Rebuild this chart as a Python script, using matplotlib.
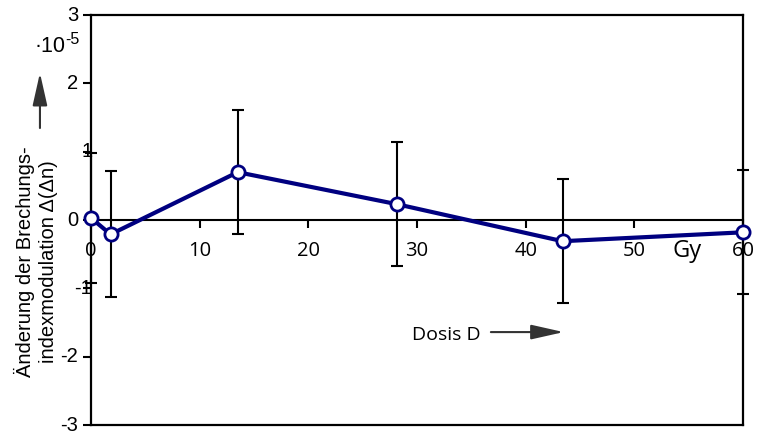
import matplotlib.pyplot as plt

plt.rcParams['font.family'] = ['Liberation Sans', 'DejaVu Sans']

# Dosis (Gy) and change of index modulation (x 1e-5)
dose = [0, 1.8, 13.5, 28.2, 43.4, 60]
delta = [0.03, -0.21, 0.70, 0.23, -0.31, -0.18]
err = [0.95, 0.92, 0.91, 0.91, 0.91, 0.91]
xticks = [0, 10, 20, 30, 40, 50, 60]
yticks = [-3, -2, -1, 0, 1, 2, 3]

fig = plt.figure(figsize=(7.61, 4.34), dpi=100)
ax = fig.add_axes([0.1196, 0.0207, 0.8567, 0.9447])
ax.set_xlim(0, 60)
ax.set_ylim(-3, 3)
for s in ax.spines.values():
    s.set_linewidth(1.6)

ax.set_xticks([])
ax.set_yticks(yticks)
ax.set_yticklabels([])
ax.tick_params(axis='y', direction='out', length=6, width=1.5)

# y tick labels (the +/-1 ones sit closer to the axis in the original)
for v in yticks:
    dx = 0.002 if abs(v) == 1 else -0.02
    ax.text(dx, v, str(v), transform=ax.get_yaxis_transform(), ha='right', va='center', fontsize=14.5)

# x axis through zero
sec = ax.secondary_xaxis(0.5)
sec.set_alignment('bottom')
sec.set_xticks(xticks)
sec.spines['bottom'].set_linewidth(1.5)
sec.tick_params(direction='out', length=6, width=1.5, labelsize=14.5, pad=9)
for lab in sec.get_xticklabels():
    lab.set_family('Open Sans')

ax.errorbar(dose, delta, yerr=err, fmt='none', ecolor='black', elinewidth=1.5,
            capsize=4.5, capthick=1.5, clip_on=False, zorder=3)
ax.plot(dose, delta, color='#000080', lw=3, marker='o', ms=9.5, mfc='white',
        mec='#000080', mew=2, clip_on=False, zorder=4)

arrow = dict(arrowstyle='-|>,head_length=2.0,head_width=0.45', color='#333333', lw=1.5,
             shrinkA=0, shrinkB=0)

ax.text(53.5, -0.46, 'Gy', fontsize=17, ha='left', va='center', family='Open Sans')
ax.text(29.5, -1.68, 'Dosis D', fontsize=14, ha='left', va='center', family='Open Sans')
ax.annotate('', xy=(43.5, -1.64), xytext=(36.8, -1.64), arrowprops=arrow)

fig.text(0.045, 0.893, '·10', fontsize=15.5, ha='left', va='center')
fig.text(0.0855, 0.908, '-5', fontsize=11.5, ha='left', va='center')
fig.text(0.0475, 0.398, 'Änderung der Brechungs-\nindexmodulation Δ(Δn)', rotation=90,
         fontsize=14.5, ha='center', va='center', multialignment='center', linespacing=1.3)
ax.annotate('', xy=(0.0525, 0.832), xycoords='figure fraction', xytext=(0.0525, 0.705),
            textcoords='figure fraction', annotation_clip=False, arrowprops=arrow)

fig.savefig('out.png', dpi=100)
